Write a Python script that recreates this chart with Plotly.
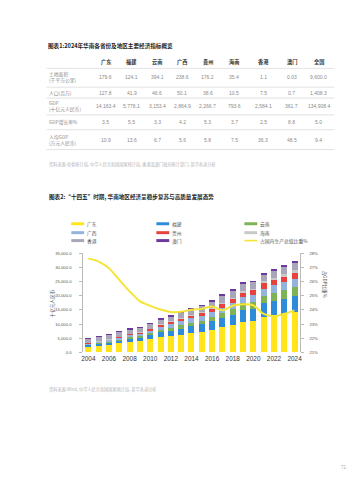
import plotly.graph_objects as go

W, H = 359, 480
FONT = "Noto Sans CJK SC"
NUMFONT = "Liberation Sans, Noto Sans CJK SC"

# ---------------- Table data ----------------
table_title = "图表1:2024年华南各省份及地区主要经济指标概览"
table_cols = ["广东", "福建", "云南", "广西", "贵州", "海南", "香港", "澳门", "全国"]
row_labels = ["土地面积<br>(千平方公里)", "人口(百万)", "GDP<br>(十亿元人民币)", "GDP增长率%", "人均GDP<br>(万元人民币)"]
land = ["179.6", "124.1", "394.1", "238.6", "176.2", "35.4", "1.1", "0.03", "9,600.0"]
population = ["127.8", "41.9", "46.6", "50.1", "38.6", "10.5", "7.5", "0.7", "1,408.3"]
gdp = ["14,163.4", "5,776.1", "3,153.4", "2,864.9", "2,266.7", "793.6", "2,584.1", "361.7", "134,908.4"]
growth = ["3.5", "5.5", "3.3", "4.2", "5.3", "3.7", "2.5", "8.8", "5.0"]
gdp_pc = ["10.9", "13.6", "6.7", "5.6", "5.8", "7.5", "36.3", "48.5", "9.4"]
table_source = "资料来源:各省统计局, 中华人民共和国国家统计局, 香港及澳门政府统计部门, 普华永道分析"

# ---------------- Chart data ----------------
chart_title = "图表2:“十四五”时期, 华南地区经济呈稳步复苏与高质量发展态势"
years = list(range(2004, 2025))
guangdong = [1886, 2256, 2659, 3178, 3680, 3948, 4601, 5321, 5707, 6247, 6781, 7281, 8086, 8988, 9728, 10767, 11076, 12437, 12912, 13567, 14163]
fujian = [605, 657, 761, 925, 1082, 1224, 1474, 1756, 1970, 2176, 2406, 2598, 2881, 3230, 3580, 4233, 4390, 4881, 5311, 5436, 5776]
yunnan = [308, 346, 400, 477, 569, 617, 722, 889, 1031, 1183, 1281, 1362, 1479, 1638, 2088, 2322, 2452, 2715, 2895, 3002, 3153]
guangxi = [343, 398, 475, 583, 702, 776, 957, 1172, 1304, 1445, 1567, 1680, 1832, 1852, 2035, 2124, 2216, 2474, 2630, 2730, 2865]
guizhou = [159, 201, 234, 288, 356, 391, 460, 570, 685, 801, 925, 1050, 1177, 1354, 1481, 1677, 1783, 1959, 2016, 2091, 2267]
hainan = [80, 90, 105, 125, 150, 165, 206, 252, 286, 318, 350, 370, 405, 446, 483, 531, 553, 648, 682, 755, 794]
hongkong = [1370, 1470, 1540, 1620, 1520, 1470, 1560, 1580, 1650, 1700, 1800, 1940, 2130, 2310, 2400, 2510, 2370, 2370, 2410, 2570, 2584]
macau = [86, 97, 118, 151, 157, 158, 193, 241, 275, 335, 355, 300, 300, 344, 368, 385, 175, 210, 158, 348, 362]
share_pct = [27.65, 27.42, 26.95, 26.13, 25.32, 24.63, 24.29, 24.03, 23.85, 23.87, 24.02, 24.08, 24.25, 23.98, 24.3, 24.4, 24.33, 23.72, 23.57, 23.73, 23.97]
series_names = ["广东", "福建", "云南", "广西", "贵州", "海南", "香港", "澳门"]
line_name = "占国内生产总值比重%"
left_title = "十亿元人民币"
right_title = "占GDP比重%"
chart_source = "资料来源:Wind, 中华人民共和国国家统计局, 普华永道分析"
page_no = "71"

colors = ["#FFE51A", "#2E8BDA", "#7DB356", "#93B3DF", "#E8423F", "#C9C9C9", "#A8A6B8", "#6B3A9C"]
line_color = "#F5E536"

def px(x, y):
    return x / W, 1 - y / H

fig = go.Figure()
for name, vals, c in zip(series_names, [guangdong, fujian, yunnan, guangxi, guizhou, hainan, hongkong, macau], colors):
    fig.add_trace(go.Bar(x=years, y=vals, name=name, marker_color=c, marker_line_width=0, yaxis="y"))
fig.add_trace(go.Scatter(x=years, y=share_pct, name=line_name, mode="lines",
                         line=dict(color=line_color, width=2, shape="spline", smoothing=0.8), yaxis="y2"))

annotations = []
shapes = []

def text(x, y, s, size=5.5, color="#888", bold=False, xanchor="left", yanchor="middle", angle=0, family=FONT):
    ax, ay = px(x, y)
    if bold:
        s = "<b>" + s + "</b>"
    annotations.append(dict(x=ax, y=ay, xref="paper", yref="paper", text=s, showarrow=False,
                            xanchor=xanchor, yanchor=yanchor, textangle=angle, align="left",
                            font=dict(family=family, size=size, color=color)))

def hline(x0, x1, y, color="#CFCFCF", width=0.6):
    a0, b = px(x0, y)
    a1, _ = px(x1, y)
    shapes.append(dict(type="line", xref="paper", yref="paper", x0=a0, x1=a1, y0=b, y1=b,
                       line=dict(color=color, width=width)))

# Table
text(36, 35, table_title, size=5.6, color="#222", bold=True)
col_x = [97, 123, 149, 174, 200, 227, 256, 285, 312]
for cx, c in zip(col_x, table_cols):
    text(cx, 52, c, size=5.2, color="#333", bold=True, xanchor="center")
row_y = [67, 83, 96, 112, 130]
line_y = [58, 77, 88, 105, 120, 140]
for ly in line_y:
    hline(37, 328, ly)
for ry, lab, vals in zip(row_y, row_labels, [land, population, gdp, growth, gdp_pc]):
    text(37, ry, lab, size=4.8, color="#8A8A8A")
    for cx, v in zip(col_x, vals):
        text(cx, ry, v, size=5, color="#8A8A8A", xanchor="center", family=NUMFONT)
text(37, 155, table_source, size=4.2, color="#B5B5B5")

# Chart title
text(37, 188, chart_title, size=5.6, color="#222", bold=True)

# custom legend
leg_items = [(62, 215, 0), (148, 215, 1), (237, 215, 2),
             (62, 224, 3), (148, 224, 4), (237, 224, 5),
             (62, 232, 6), (148, 232, 7)]
for lx, ly, i in leg_items:
    a0, b0 = px(lx, ly - 1.5)
    a1, b1 = px(lx + 13, ly + 1.5)
    shapes.append(dict(type="rect", xref="paper", yref="paper", x0=a0, x1=a1, y0=b1, y1=b0,
                       fillcolor=colors[i], line=dict(width=0)))
    text(lx + 14, ly, series_names[i], size=4.8, color="#555")
a0, b0 = px(237, 232)
a1, _ = px(250, 232)
shapes.append(dict(type="line", xref="paper", yref="paper", x0=a0, x1=a1, y0=b0, y1=b0,
                   line=dict(color=line_color, width=1.6)))
text(251, 232, line_name, size=4.8, color="#555")

# axis titles
text(43, 296, left_title, size=4.6, color="#555", xanchor="center", angle=-90)
text(318, 277, right_title, size=4.6, color="#555", xanchor="center", angle=90)

# source & page number
text(37, 382, chart_source, size=4.2, color="#B5B5B5")
text(338, 461, page_no, size=4.5, color="#AAA", xanchor="center", family=NUMFONT)

x0d, _ = px(74, 0)
x1d, _ = px(293, 0)
_, y0d = px(0, 345)
_, y1d = px(0, 245)

fig.update_layout(
    width=W, height=H, margin=dict(l=0, r=0, t=0, b=0),
    paper_bgcolor="white", plot_bgcolor="white",
    barmode="stack", bargap=0.42, showlegend=False,
    font=dict(family=FONT),
    xaxis=dict(domain=[x0d, x1d], range=[2003.5, 2024.5], tickmode="linear", tick0=2004, dtick=2,
               showgrid=False, zeroline=False, showline=False, ticks="",
               tickfont=dict(family=NUMFONT, size=6.4, color="#333"), ticklabelstandoff=1),
    yaxis=dict(domain=[y0d, y1d], range=[0, 35000], dtick=5000, tickformat=",.1f",
               showgrid=False, zeroline=False, showline=True, linecolor="#BBBBBB", linewidth=0.6,
               ticks="outside", ticklen=3, tickcolor="#BBBBBB", tickwidth=0.6,
               tickfont=dict(family=NUMFONT, size=4.2, color="#555"), ticklabelstandoff=7),
    yaxis2=dict(overlaying="y", side="right", range=[21, 28], dtick=1, ticksuffix="%",
                showgrid=False, zeroline=False, showline=True, linecolor="#BBBBBB", linewidth=0.6,
                ticks="outside", ticklen=3, tickcolor="#BBBBBB", tickwidth=0.6,
                tickfont=dict(family=NUMFONT, size=4.2, color="#555"), ticklabelstandoff=5,
                anchor="x"),
    annotations=annotations, shapes=shapes,
)

fig.write_html("out.html")
